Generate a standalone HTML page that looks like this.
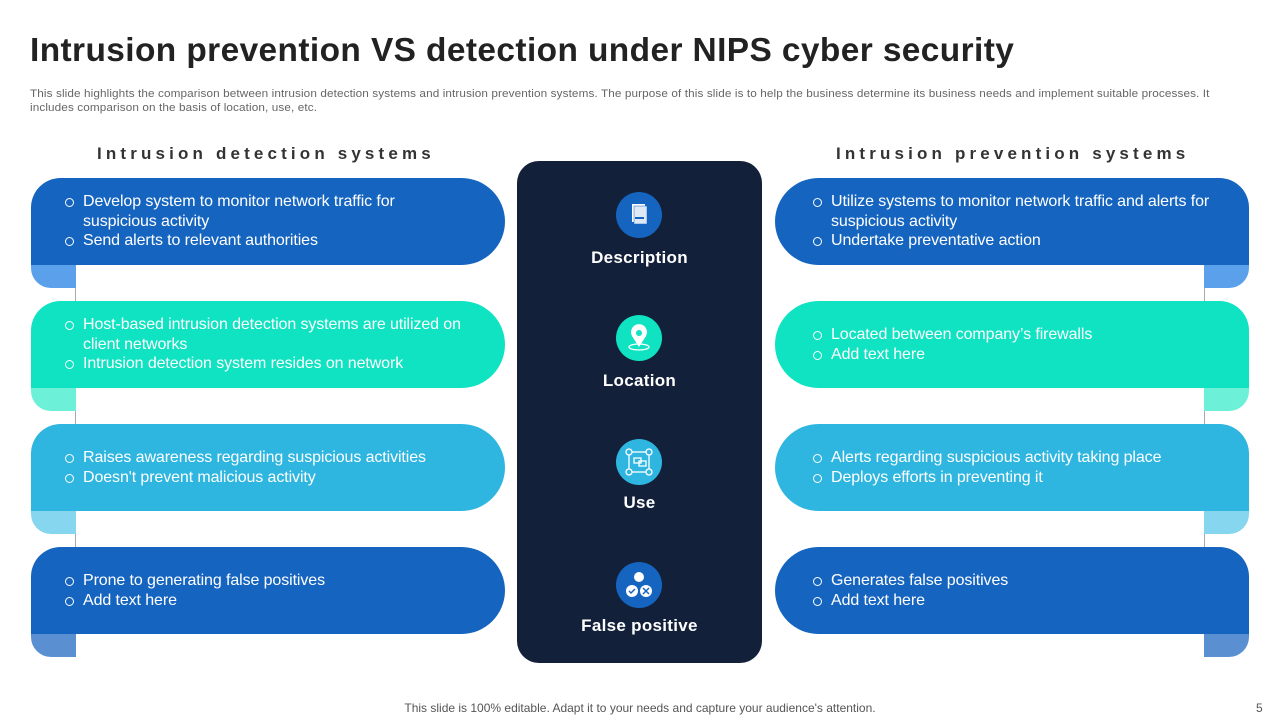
<!DOCTYPE html>
<html><head><meta charset="utf-8"><style>
*{margin:0;padding:0;box-sizing:border-box}
body{width:1280px;height:720px;background:#fff;font-family:"Liberation Sans",sans-serif;position:relative;overflow:hidden}
.abs{position:absolute}
h1{position:absolute;left:30px;top:31px;font-size:33px;font-weight:bold;color:#222;letter-spacing:0.4px;white-space:nowrap;transform:scaleX(1.013);transform-origin:left}
.sub{left:30px;top:87px;font-size:11px;color:#666;line-height:14px;letter-spacing:0.1px;white-space:nowrap;transform:scaleX(1.067);transform-origin:left}
.hd{top:144px;font-size:17px;font-weight:bold;color:#333;letter-spacing:4.15px}
.card{position:absolute;height:87px;color:#fff;font-size:16px;line-height:19.5px;display:flex;flex-direction:column;justify-content:center;letter-spacing:-0.1px}
.L{left:31px;width:474px;border-radius:30px 44px 44px 0;padding-left:52px}
.R{left:775px;width:474px;border-radius:44px 30px 0 44px;padding-left:56px}
.card div{position:relative}
.card div:before{content:"";position:absolute;left:-18px;top:6px;width:7px;height:7px;border:1.2px solid #fff;border-radius:50%}
.tabL{position:absolute;left:31px;width:45px;height:30px;border-radius:0 0 0 20px}
.tabR{position:absolute;left:1204px;width:45px;height:30px;border-radius:0 0 20px 0}
.vl{position:absolute;width:1px;background:#aaa}
.panel{left:517px;top:161px;width:245px;height:502px;background:#13203a;border-radius:22px}
.ic{position:absolute;left:616px;width:46px;height:46px;border-radius:50%}
.lb{position:absolute;left:517px;width:245px;text-align:center;color:#fff;font-weight:bold;font-size:17px;letter-spacing:0.3px}
</style></head><body>
<h1>Intrusion prevention VS detection under NIPS cyber security</h1>
<div class="abs sub">This slide highlights the comparison between intrusion detection systems and intrusion prevention systems. The purpose of this slide is to help the business determine its business needs and implement suitable processes. It<br>includes comparison on the basis of location, use, etc.</div>
<div class="abs hd" style="left:97px">Intrusion detection systems</div>
<div class="abs hd" style="left:836px">Intrusion prevention systems</div>

<div class="vl" style="left:75px;top:265px;height:300px"></div>
<div class="vl" style="left:1204px;top:265px;height:300px"></div>

<div class="tabL" style="top:258px;background:#5aa0ea"></div>
<div class="tabL" style="top:381px;background:#6cf0d8"></div>
<div class="tabL" style="top:504px;background:#86d6ef"></div>
<div class="tabL" style="top:627px;background:#5a8fd2"></div>
<div class="tabR" style="top:258px;background:#5aa0ea"></div>
<div class="tabR" style="top:381px;background:#6cf0d8"></div>
<div class="tabR" style="top:504px;background:#86d6ef"></div>
<div class="tabR" style="top:627px;background:#5a8fd2"></div>

<div class="card L" style="top:178px;background:#1565c0"><div>Develop system to monitor network traffic for<br>suspicious activity</div><div>Send alerts to relevant authorities</div></div>
<div class="card L" style="top:301px;background:#0fe3c2"><div>Host-based intrusion detection systems are utilized on<br>client networks</div><div>Intrusion detection system resides on network</div></div>
<div class="card L" style="top:424px;background:#2eb6e0"><div>Raises awareness regarding suspicious activities</div><div>Doesn't prevent malicious activity</div></div>
<div class="card L" style="top:547px;background:#1565c0"><div>Prone to generating false positives</div><div>Add text here</div></div>

<div class="card R" style="top:178px;background:#1565c0"><div>Utilize systems to monitor network traffic and alerts for<br>suspicious activity</div><div>Undertake preventative action</div></div>
<div class="card R" style="top:301px;background:#0fe3c2"><div>Located between company’s firewalls</div><div>Add text here</div></div>
<div class="card R" style="top:424px;background:#2eb6e0"><div>Alerts regarding suspicious activity taking place</div><div>Deploys efforts in preventing it</div></div>
<div class="card R" style="top:547px;background:#1565c0"><div>Generates false positives</div><div>Add text here</div></div>

<div class="abs panel"></div>
<div class="ic" style="top:192px;background:#1565c0"><svg width="46" height="46"><rect x="16" y="12" width="13" height="18" fill="#fff"/><rect x="18" y="14" width="13" height="18" fill="#dfe8f5" stroke="#1565c0" stroke-width=".5"/><rect x="19" y="25" width="9" height="2" fill="#1565c0"/></svg></div>
<div class="lb" style="top:248px">Description</div>
<div class="ic" style="top:315px;background:#0fe3c2"><svg width="46" height="46"><ellipse cx="23" cy="32" rx="10" ry="3" fill="none" stroke="#fff" stroke-width="1.3"/><path d="M23 32 L16 21 A8 8 0 1 1 30 21 Z" fill="#fff"/><circle cx="23" cy="18" r="3" fill="#0fe3c2"/></svg></div>
<div class="lb" style="top:371px">Location</div>
<div class="ic" style="top:439px;background:#2eb6e0"><svg width="46" height="46" fill="none" stroke="#fff" stroke-width="1.3"><rect x="13" y="13" width="20" height="20"/><circle cx="13" cy="13" r="3" fill="#2eb6e0"/><circle cx="33" cy="13" r="3" fill="#2eb6e0"/><circle cx="13" cy="33" r="3" fill="#2eb6e0"/><circle cx="33" cy="33" r="3" fill="#2eb6e0"/><rect x="18" y="19" width="7" height="5"/><rect x="23" y="22" width="7" height="5"/></svg></div>
<div class="lb" style="top:493px">Use</div>
<div class="ic" style="top:562px;background:#1565c0"><svg width="46" height="46"><circle cx="23" cy="15" r="5" fill="#fff"/><circle cx="16" cy="29" r="6" fill="#fff"/><circle cx="30" cy="29" r="6" fill="#fff"/><path d="M13 29l2 2 4-4" stroke="#1565c0" stroke-width="1.5" fill="none"/><path d="M27 26l6 6M33 26l-6 6" stroke="#1565c0" stroke-width="1.5"/></svg></div>
<div class="lb" style="top:616px">False positive</div>

<div class="abs" style="left:0;width:1280px;top:701px;text-align:center;font-size:12px;color:#555">This slide is 100% editable. Adapt it to your needs and capture your audience's attention.</div>
<div class="abs" style="left:1256px;top:701px;font-size:12px;color:#555">5</div>
</body></html>
